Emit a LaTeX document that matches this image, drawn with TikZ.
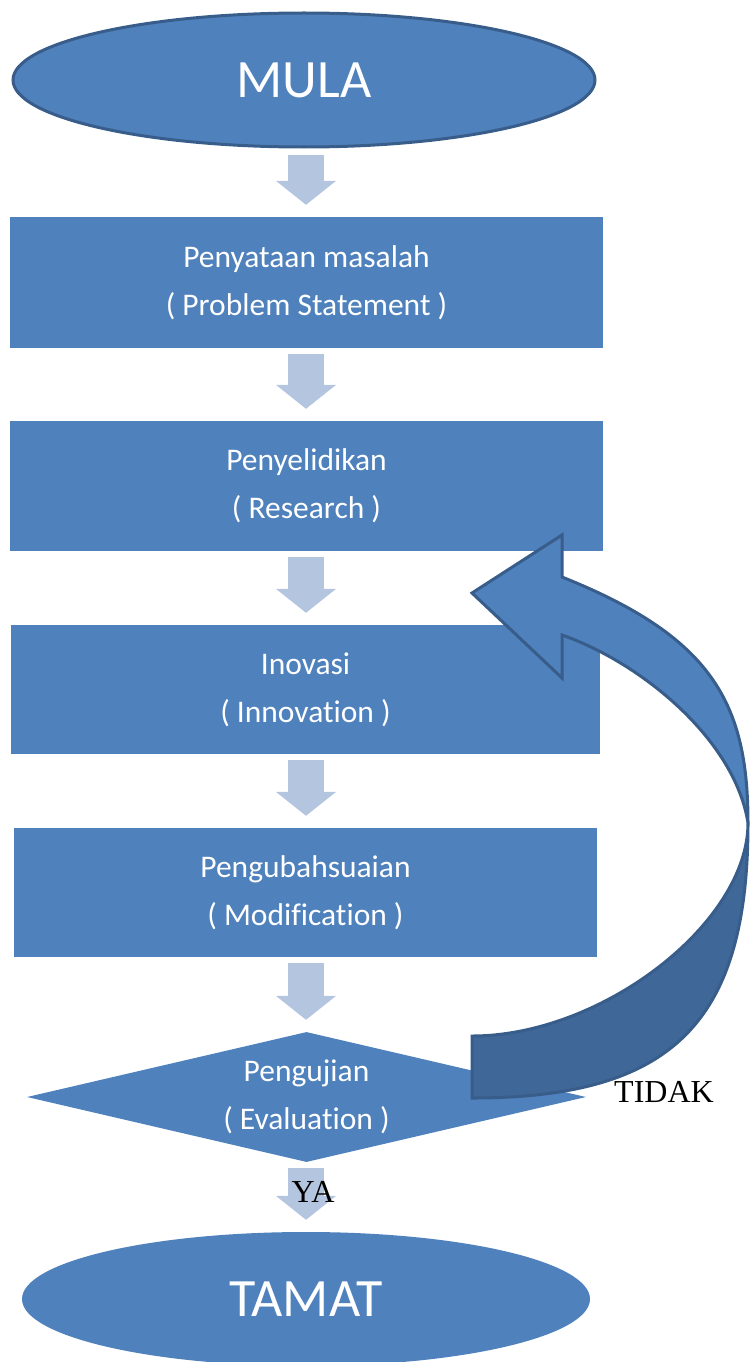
\documentclass[tikz,border=0pt]{standalone}
\usepackage{fontspec}
\setmainfont{Carlito}[Ligatures={NoCommon}]
\newfontfamily\timesf{Liberation Serif}
\usetikzlibrary{shapes.geometric,arrows.meta}
\definecolor{face}{RGB}{79,129,189}
\definecolor{edge}{RGB}{56,93,138}
\definecolor{back}{RGB}{63,103,152}
\definecolor{light}{RGB}{180,197,224}
\begin{document}
\begin{tikzpicture}[x=1pt,y=-1pt,
  stepbox/.style={rectangle, fill=face, text=white, inner sep=0pt, align=center,
    font=\fontsize{31.5}{48}\selectfont},
  term/.style={ellipse, fill=face, text=white, inner sep=0pt,
    font=\fontsize{54}{62}\selectfont},
  flow/.style={draw=light, line width=36pt, -{Triangle[length=24pt,width=59pt,fill=light]},
    shorten <=6pt, shorten >=12pt},
  lbl/.style={font=\timesf\fontsize{32}{36}\selectfont, text=black, inner sep=0pt},
  bandline/.style={draw=edge, line width=3pt, line join=miter}
]
\useasboundingbox (0,0) rectangle (752,1362);
\coordinate (ax) at (306,0);

\node[term, draw=edge, line width=3pt, minimum width=582pt, minimum height=134pt] (mula) at (304,80) {MULA};
\node[stepbox, minimum width=593pt, minimum height=131pt] (s1) at (306.5,282.5) {Penyataan masalah\\( Problem Statement )};
\node[stepbox, minimum width=593pt, minimum height=130pt] (s2) at (306.5,486) {Penyelidikan\\( Research )};
\node[stepbox, minimum width=589pt, minimum height=129pt] (s3) at (305.5,689.5) {Inovasi\\( Innovation )};
\node[stepbox, minimum width=583pt, minimum height=129pt] (s4) at (305.5,892.5) {Pengubahsuaian\\( Modification )};
\node[diamond, fill=face, text=white, inner sep=0pt, aspect=4.3, minimum width=559pt,
  minimum height=130pt, align=center, font=\fontsize{31.5}{48}\selectfont] (eval) at (306.5,1097) {Pengujian\\( Evaluation )};
\node[term, minimum width=568pt, minimum height=134pt] (tamat) at (306,1299) {TAMAT};

\draw[flow] (mula.south -| ax) -- (s1.north -| ax);
\draw[flow] (s1.south -| ax) -- (s2.north -| ax);
\draw[flow] (s2.south -| ax) -- (s3.north -| ax);
\draw[flow] (s3.south -| ax) -- (s4.north -| ax);
\draw[flow] (s4.south -| ax) -- (eval.north -| ax);
\draw[flow] (eval.south -| ax) -- (tamat.north -| ax);

% curved return arrow (TIDAK)
\filldraw[bandline, fill=face]
  (562,577) .. controls (712,637) and (748,703) .. (748,823)
  .. controls (735,740) and (642,663) .. (562,635)
  -- (562,678) -- (472,593) -- (562,535) -- cycle;
\filldraw[bandline, fill=back]
  (748,823) .. controls (748,1023) and (672,1098) .. (472,1098)
  -- (472,1036)
  .. controls (602,1036) and (748,923) .. (748,823) -- cycle;

\node[lbl] (tidak) at (664,1092) {TIDAK};
\node[lbl] (ya) at (313,1192) {YA};
\end{tikzpicture}
\end{document}
